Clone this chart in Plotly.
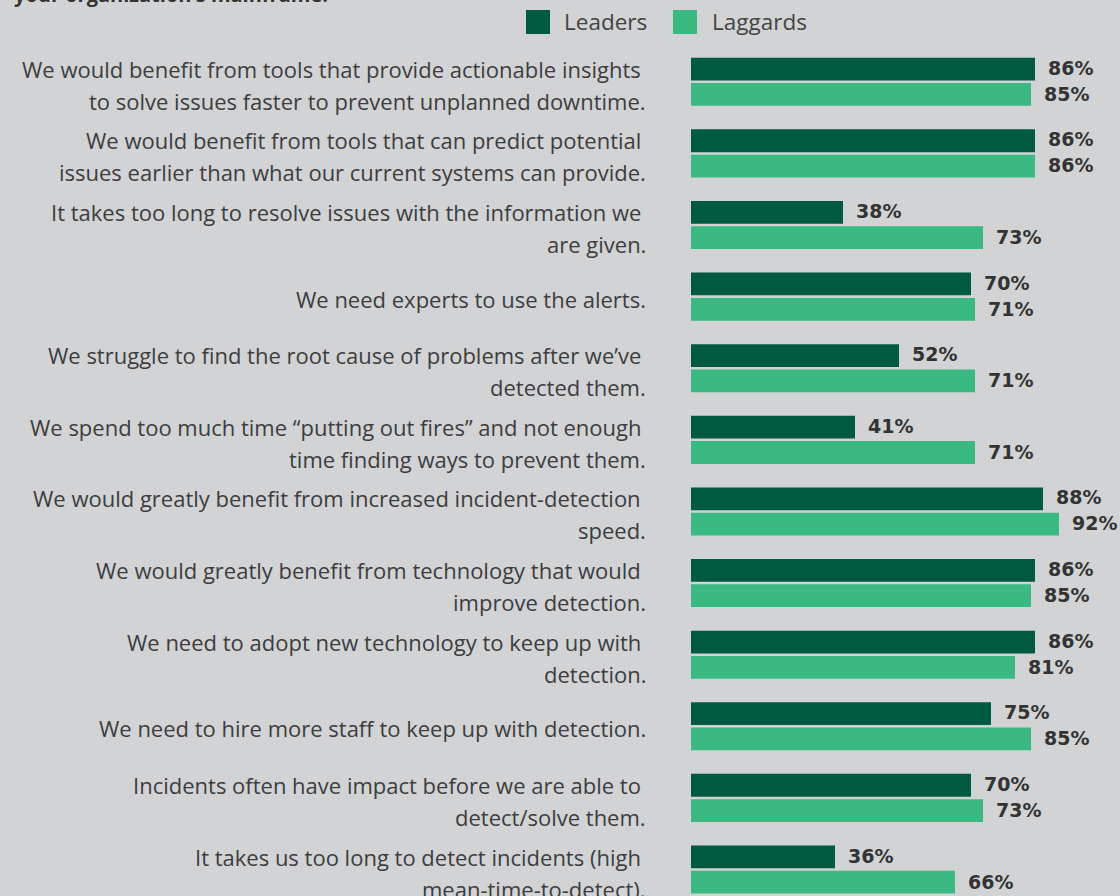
import plotly.graph_objects as go

categories = [
    "We would benefit from tools that provide actionable insights<br>to solve issues faster to prevent unplanned downtime.",
    "We would benefit from tools that can predict potential<br>issues earlier than what our current systems can provide.",
    "It takes too long to resolve issues with the information we<br>are given.",
    "We need experts to use the alerts.",
    "We struggle to find the root cause of problems after we’ve<br>detected them.",
    "We spend too much time “putting out fires” and not enough<br>time finding ways to prevent them.",
    "We would greatly benefit from increased incident-detection<br>speed.",
    "We would greatly benefit from technology that would<br>improve detection.",
    "We need to adopt new technology to keep up with<br>detection.",
    "We need to hire more staff to keep up with detection.",
    "Incidents often have impact before we are able to<br>detect/solve them.",
    "It takes us too long to detect incidents (high<br>mean-time-to-detect).",
]
leaders = [86, 86, 38, 70, 52, 41, 88, 86, 86, 75, 70, 36]
laggards = [85, 86, 73, 71, 71, 71, 92, 85, 81, 85, 73, 66]
series_names = ["Leaders", "Laggards"]
title_text = "your organization’s mainframe."

W, H = 1120, 896
L, R, T, B = 691, 0, 46, 0
BG = "#d1d3d4"
DARK = "#005a40"
LIGHT = "#3bb982"
TXT = "#3d3d3f"
FONT = "Open Sans"
VFONT = "DejaVu Sans"

def px_x(p):
    return (p - L) / (W - L - R)

def px_y(p):
    return (H - B - p) / (H - T - B)

fig = go.Figure()
fig.add_trace(go.Bar(y=categories, x=leaders, orientation="h", name=series_names[0],
                     marker=dict(color=DARK, line=dict(width=0)), showlegend=False))
fig.add_trace(go.Bar(y=categories, x=laggards, orientation="h", name=series_names[1],
                     marker=dict(color=LIGHT, line=dict(width=0)), showlegend=False))

annotations = []
# value labels
for cat, v in zip(categories, leaders):
    annotations.append(dict(x=v, y=cat, text=f"<b>{v}%</b>", showarrow=False, xanchor="left",
                            xshift=11, yshift=14, font=dict(family=VFONT, size=19, color="#333333")))
for cat, v in zip(categories, laggards):
    annotations.append(dict(x=v, y=cat, text=f"<b>{v}%</b>", showarrow=False, xanchor="left",
                            xshift=11, yshift=-12, font=dict(family=VFONT, size=19, color="#333333")))
# category labels
for cat in categories:
    lines = cat.split("<br>")
    if len(lines) == 1:
        annotations.append(dict(x=px_x(648), xref="paper", y=cat, yref="y", text=lines[0],
                                showarrow=False, xanchor="right", yshift=-2,
                                font=dict(family=FONT, size=22, color=TXT)))
    else:
        annotations.append(dict(x=px_x(643), xref="paper", y=cat, yref="y", text=lines[0],
                                showarrow=False, xanchor="right", yshift=13,
                                font=dict(family=FONT, size=22, color=TXT)))
        annotations.append(dict(x=px_x(648), xref="paper", y=cat, yref="y", text=lines[1],
                                showarrow=False, xanchor="right", yshift=-19,
                                font=dict(family=FONT, size=22, color=TXT)))
# legend
shapes = []
for name, col, sx, tx in [(series_names[0], DARK, 526, 562), (series_names[1], LIGHT, 673, 710)]:
    shapes.append(dict(type="rect", xref="paper", yref="paper", x0=px_x(sx), x1=px_x(sx + 24),
                       y0=px_y(34), y1=px_y(10), fillcolor=col, line=dict(width=0)))
    annotations.append(dict(x=px_x(tx), y=px_y(21), xref="paper", yref="paper", text=name,
                            showarrow=False, xanchor="left", yanchor="middle",
                            font=dict(family=FONT, size=22.5, color="#444444")))
# clipped title
annotations.append(dict(x=px_x(12), y=px_y(10), xref="paper", yref="paper", text=f"<b>{title_text}</b>",
                        showarrow=False, xanchor="left", yanchor="bottom",
                        font=dict(family=FONT, size=20, color="#333333")))

fig.update_layout(
    width=W, height=H,
    margin=dict(l=L, r=R, t=T, b=B, pad=0),
    paper_bgcolor=BG, plot_bgcolor=BG,
    barmode="group", bargap=0.293, bargroupgap=0.1,
    xaxis=dict(range=[0, (W - L - R) / 4.0], visible=False, fixedrange=True),
    yaxis=dict(range=[11.37, -0.5], showticklabels=False, showgrid=False, zeroline=False,
               showline=False, ticks="", fixedrange=True),
    annotations=annotations, shapes=shapes,
    showlegend=False,
)
fig.write_html("out.html")
